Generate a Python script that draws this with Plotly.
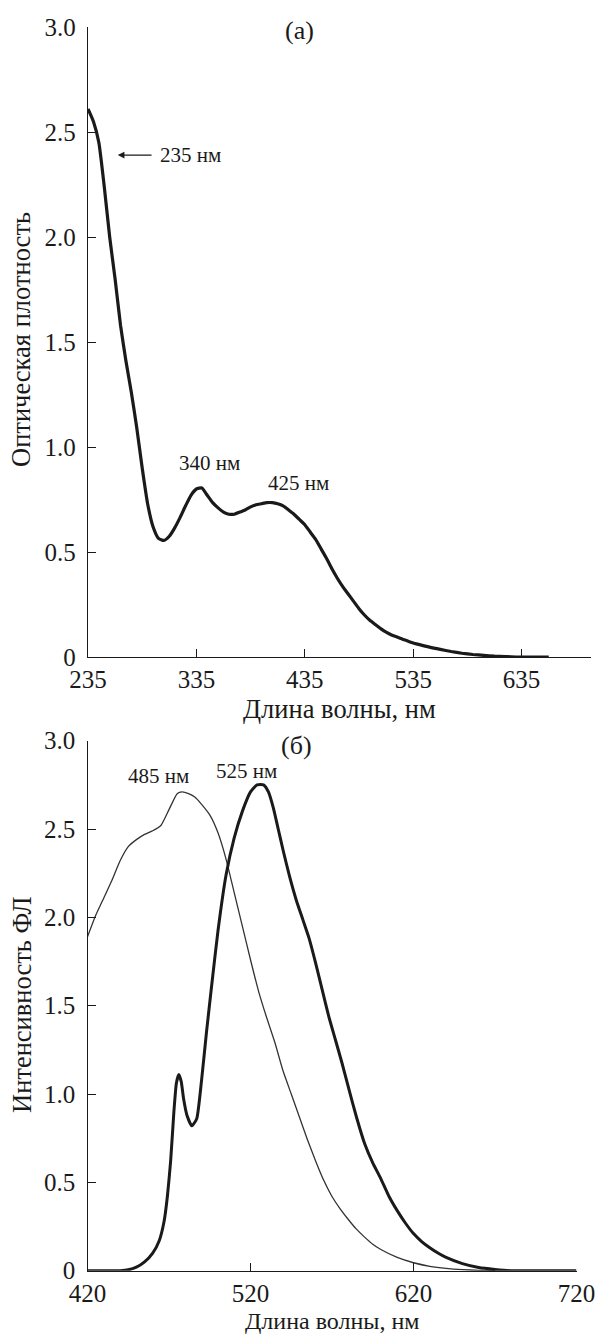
import plotly.graph_objects as go

# ---- Panel (a): absorption spectrum ----
abs_wl = [235, 240, 245, 250, 255, 260, 265, 270, 275, 280, 285, 290, 295, 300, 305, 310,
          315, 320, 325, 330, 335, 340, 345, 350, 355, 360, 365, 370, 375, 380, 385, 390,
          395, 400, 405, 410, 415, 420, 425, 430, 435, 440, 445, 450, 455, 460, 465, 470,
          475, 480, 485, 490, 495, 500, 505, 510, 515, 520, 525, 530, 535, 540, 550, 560,
          570, 580, 590, 600, 610, 620, 630, 645, 660]
abs_od = [2.61, 2.55, 2.45, 2.24, 2.00, 1.80, 1.58, 1.41, 1.26, 1.09, 0.90, 0.73, 0.62, 0.565, 0.555, 0.575,
          0.615, 0.665, 0.72, 0.77, 0.80, 0.805, 0.77, 0.735, 0.71, 0.69, 0.68, 0.68, 0.69, 0.70, 0.715, 0.725,
          0.73, 0.735, 0.735, 0.73, 0.72, 0.70, 0.68, 0.655, 0.63, 0.595, 0.56, 0.515, 0.47, 0.42, 0.375, 0.335,
          0.30, 0.265, 0.23, 0.20, 0.175, 0.155, 0.135, 0.118, 0.105, 0.095, 0.085, 0.076, 0.067, 0.060, 0.047, 0.036,
          0.026, 0.018, 0.012, 0.008, 0.004, 0.002, 0.0, 0.0, 0.0]

# ---- Panel (б): fluorescence spectra ----
thin_wl = [420, 425, 430, 435, 440, 445, 450, 455, 460, 465, 470, 475, 478, 482, 486, 490, 495, 500,
           505, 510, 515, 520, 525, 530, 535, 540, 545, 550, 555, 560, 565, 570, 575, 580, 585, 590,
           595, 600, 610, 620, 630, 640, 650, 660, 670]
thin_int = [1.89, 2.01, 2.11, 2.21, 2.32, 2.40, 2.44, 2.47, 2.49, 2.52, 2.61, 2.70, 2.71, 2.70, 2.68, 2.64, 2.58, 2.48,
            2.33, 2.14, 1.95, 1.76, 1.58, 1.43, 1.29, 1.13, 1.00, 0.87, 0.74, 0.62, 0.51, 0.42, 0.35, 0.29, 0.235, 0.19,
            0.15, 0.12, 0.075, 0.045, 0.025, 0.013, 0.006, 0.002, 0.0]

thick_wl = [420, 440, 445, 450, 455, 460, 464, 467, 469, 471, 473, 474.5, 476, 477.5, 479, 481, 484, 487,
            490, 493, 496, 500, 505, 510, 515, 520, 524, 528, 531, 534, 537, 540, 544, 548, 552, 556,
            560, 564, 568, 572, 576, 580, 585, 590, 595, 600, 605, 610, 615, 620, 625, 630, 635, 640,
            650, 660, 670, 680, 720]
thick_int = [0.0, 0.0, 0.005, 0.02, 0.05, 0.10, 0.17, 0.28, 0.42, 0.62, 0.90, 1.06, 1.11, 1.07, 0.97, 0.88, 0.82, 0.86,
             1.08, 1.35, 1.60, 1.92, 2.24, 2.45, 2.60, 2.71, 2.75, 2.75, 2.71, 2.62, 2.50, 2.38, 2.23, 2.10, 1.99, 1.88,
             1.74, 1.59, 1.44, 1.31, 1.18, 1.04, 0.87, 0.72, 0.61, 0.52, 0.42, 0.34, 0.27, 0.21, 0.165, 0.13, 0.10, 0.075,
             0.04, 0.018, 0.007, 0.0, 0.0]

y_ticks = [0, 0.5, 1.0, 1.5, 2.0, 2.5, 3.0]
y_tick_text = ["0", "0.5", "1.0", "1.5", "2.0", "2.5", "3.0"]
xa_ticks = [235, 335, 435, 535, 635]
xb_ticks = [420, 520, 620, 720]

FONT = "Liberation Serif, Times New Roman, serif"
INK = "#1a1a1a"

fig = go.Figure()
fig.add_trace(go.Scatter(x=abs_wl, y=abs_od, mode="lines", xaxis="x", yaxis="y",
                         line=dict(color=INK, width=3.2, shape="spline", smoothing=0.5),
                         showlegend=False, hoverinfo="skip"))
fig.add_trace(go.Scatter(x=thin_wl, y=thin_int, mode="lines", xaxis="x2", yaxis="y2",
                         line=dict(color="#333333", width=1.3, shape="spline", smoothing=0.5),
                         showlegend=False, hoverinfo="skip"))
fig.add_trace(go.Scatter(x=thick_wl, y=thick_int, mode="lines", xaxis="x2", yaxis="y2",
                         line=dict(color=INK, width=3.0, shape="spline", smoothing=0.5),
                         showlegend=False, hoverinfo="skip"))

W, H = 598, 1334
def px(x):
    return x / W
def py(y):
    return 1 - y / H

axis_common = dict(showline=True, linecolor=INK, linewidth=1.3, showgrid=False, zeroline=False,
                   ticks="inside", ticklen=8, tickwidth=1.2, tickcolor=INK, automargin=False,
                   tickfont=dict(family=FONT, size=25, color=INK), mirror=False)

fig.update_layout(
    template="none",
    width=W, height=H,
    margin=dict(l=0, r=0, t=0, b=0, pad=0, autoexpand=False),
    paper_bgcolor="white", plot_bgcolor="white",
    font=dict(family=FONT, color=INK),
    xaxis=dict(domain=[px(88), px(591)], range=[235, 699], anchor="y",
               tickvals=xa_ticks, ticktext=[str(v) for v in xa_ticks], ticklabelstandoff=0, **axis_common),
    yaxis=dict(domain=[py(657), py(27)], range=[0, 3], anchor="x",
               tickvals=y_ticks, ticktext=y_tick_text, ticklabelstandoff=6, **axis_common),
    xaxis2=dict(domain=[px(87.5), px(576.5)], range=[420, 720], anchor="y2",
                tickvals=xb_ticks, ticktext=[str(v) for v in xb_ticks], ticklabelstandoff=0, **axis_common),
    yaxis2=dict(domain=[py(1270.7), py(740.7)], range=[0, 3], anchor="x2",
                tickvals=y_ticks, ticktext=y_tick_text, ticklabelstandoff=6, **axis_common),
)

ann_font = dict(family=FONT, size=21, color=INK)
title_font = dict(family=FONT, size=26.5, color=INK)
panel_font = dict(family=FONT, size=26, color=INK)
annotations = [
    # axis titles
    dict(text="Длина волны, нм", xref="paper", yref="paper", x=px(339), y=py(709),
         showarrow=False, font=title_font, xanchor="center", yanchor="middle"),
    dict(text="Длина волны, нм", xref="paper", yref="paper", x=px(332), y=py(1321),
         showarrow=False, font=dict(family=FONT, size=24, color=INK), xanchor="center", yanchor="middle"),
    dict(text="Оптическая плотность", xref="paper", yref="paper", x=px(21), y=py(340),
         showarrow=False, font=title_font, textangle=-90, xanchor="center", yanchor="middle"),
    dict(text="Интенсивность ФЛ", xref="paper", yref="paper", x=px(22), y=py(1005),
         showarrow=False, font=title_font, textangle=-90, xanchor="center", yanchor="middle"),
    # panel (a) labels
    dict(text="(а)", xref="x", yref="y", x=430.5, y=2.985, showarrow=False,
         font=panel_font, xanchor="center", yanchor="middle"),
    dict(text="", xref="x", yref="y", x=262.5, y=2.39, ax=295, ay=2.39, axref="x", ayref="y",
         showarrow=True, arrowhead=2, arrowsize=1.2, arrowwidth=1.1, arrowcolor=INK),
    dict(text="235 нм", xref="x", yref="y", x=299.5, y=2.39, showarrow=False,
         font=ann_font, xanchor="left", yanchor="middle"),
    dict(text="340 нм", xref="x", yref="y", x=346.7, y=0.925, showarrow=False,
         font=ann_font, xanchor="center", yanchor="middle"),
    dict(text="425 нм", xref="x", yref="y", x=429.4, y=0.83, showarrow=False,
         font=ann_font, xanchor="center", yanchor="middle"),
    # panel (б) labels
    dict(text="(б)", xref="x2", yref="y2", x=548.4, y=2.975, showarrow=False,
         font=panel_font, xanchor="center", yanchor="middle"),
    dict(text="485 нм", xref="x2", yref="y2", x=463.8, y=2.80, showarrow=False,
         font=ann_font, xanchor="center", yanchor="middle"),
    dict(text="525 нм", xref="x2", yref="y2", x=517.7, y=2.83, showarrow=False,
         font=ann_font, xanchor="center", yanchor="middle"),
]
fig.update_layout(annotations=annotations)

fig.write_html("out.html", config={"displayModeBar": False},
               post_script="document.body.style.margin='0';document.body.style.padding='0';")
